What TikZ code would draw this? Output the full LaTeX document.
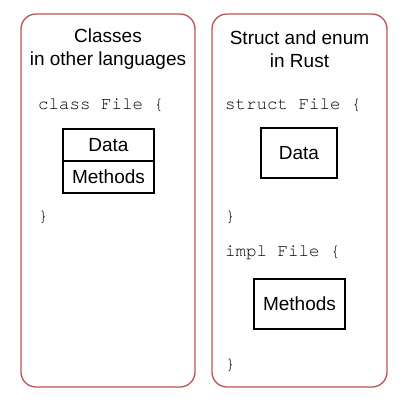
\documentclass[tikz,border=0pt]{standalone}
\usepackage{fontspec}
\setmainfont{Liberation Sans}
\setmonofont{TeX Gyre Cursor}
\usetikzlibrary{positioning}
\definecolor{panelred}{HTML}{B85450}

\begin{document}
\begin{tikzpicture}[x=1pt, y=-1pt,
    panel/.style={draw=panelred, line width=1.3pt, rounded corners=15pt},
    title/.style={font=\fontsize{19}{23.5}\selectfont, align=center},
    code/.style={font=\ttfamily\fontsize{17.5}{20}\selectfont, anchor=west, inner sep=0pt},
    part/.style={draw=black, line width=1.1pt, outer sep=0pt, font=\fontsize{19}{22}\selectfont}]
        \useasboundingbox (0,0) rectangle (405,405);
        % the two panels
        \draw[panel] (21,14) rectangle (195,387);
        \draw[panel] (212,14) rectangle (387,387);
        \node[title] (classtitle) at (108,49) {Classes\\in other languages};
        \node[title] (rusttitle) at (299.5,49) {Struct and enum\\in Rust};
        % left: one class
        \node[code] (classopen) at (38,105) {class File \{};
        \node[part, minimum width=91pt, minimum height=32pt] (classdata) at (108.5,145) {Data};
        \node[part, minimum width=91pt, minimum height=32pt, below=0pt of classdata] (classmethods) {Methods};
        \node[code] (classclose) at (38,217) {\}};
        % right: struct and impl
        \node[code] (structopen) at (225,105) {struct File \{};
        \node[part, minimum width=76pt, minimum height=50pt] (structdata) at (299,153) {Data};
        \node[code] (structclose) at (225,217) {\}};
        \node[code] (implopen) at (225,253) {impl File \{};
        \node[part, minimum width=91pt, minimum height=50pt] (implmethods) at (299.5,304) {Methods};
        \node[code] (implclose) at (225,365) {\}};
    \end{tikzpicture}
\end{document}
